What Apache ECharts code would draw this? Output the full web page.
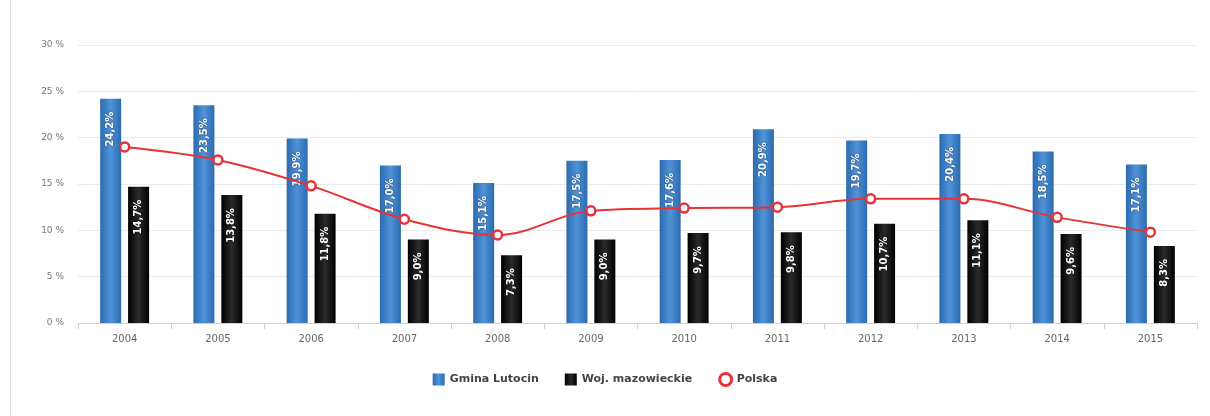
<!DOCTYPE html>
<html>
<head>
<meta charset="utf-8">
<script src="https://cdn.jsdelivr.net/npm/echarts@6/dist/echarts.min.js"></script>
<style>
html,body{margin:0;padding:0;background:#fff;}
#c{width:1210px;height:416px;}
</style>
</head>
<body>
<div id="c"></div>
<script>
var years = ['2004','2005','2006','2007','2008','2009','2010','2011','2012','2013','2014','2015'];
var gminaLutocin = [24.2, 23.5, 19.9, 17.0, 15.1, 17.5, 17.6, 20.9, 19.7, 20.4, 18.5, 17.1];
var wojMazowieckie = [14.7, 13.8, 11.8, 9.0, 7.3, 9.0, 9.7, 9.8, 10.7, 11.1, 9.6, 8.3];
var polska = [19.0, 17.6, 14.8, 11.2, 9.5, 12.1, 12.4, 12.5, 13.4, 13.4, 11.4, 9.8];

function fmt(v){ return v.toFixed(1).replace('.', ',') + '%'; }

var chart = echarts.init(document.getElementById('c'));
var barLabel = {
  show: true,
  position: 'insideTop',
  rotate: 90,
  align: 'right',
  verticalAlign: 'middle',
  distance: 13,
  color: '#fff',
  fontWeight: 'bold',
  fontSize: 10,
  fontFamily: 'DejaVu Sans',
  textShadowColor: 'rgba(0,0,0,0.6)',
  textShadowBlur: 2,
  formatter: function(p){ return fmt(p.value); }
};
chart.setOption({
  animation: false,
  backgroundColor: '#fff',
  graphic: [{
    type: 'line',
    shape: {x1: 10.5, y1: 0, x2: 10.5, y2: 416},
    style: {stroke: '#e4e4e4', lineWidth: 1}
  }],
  grid: {left: 78, right: 13, top: 45, bottom: 93, containLabel: false},
  legend: {
    bottom: 24,
    left: 'center',
    itemGap: 26,
    itemWidth: 12,
    itemHeight: 12,
    textStyle: {color: '#444', fontWeight: 'bold', fontSize: 11, fontFamily: 'DejaVu Sans'},
    data: [
      {name: 'Gmina Lutocin', icon: 'rect'},
      {name: 'Woj. mazowieckie', icon: 'rect'},
      {name: 'Polska', icon: 'circle', itemStyle: {color: '#fff', borderColor: '#e8323a', borderWidth: 3}}
    ]
  },
  xAxis: {
    type: 'category',
    data: years,
    boundaryGap: true,
    axisLine: {lineStyle: {color: '#c6d3e0'}},
    axisTick: {show: true, length: 6, lineStyle: {color: '#c6d3e0'}},
    axisLabel: {color: '#666', fontSize: 10, margin: 11, fontFamily: 'DejaVu Sans'}
  },
  yAxis: {
    type: 'value',
    min: 0,
    max: 30,
    interval: 5,
    axisLine: {show: false},
    axisTick: {show: false},
    splitLine: {lineStyle: {color: '#ebebeb'}},
    axisLabel: {color: '#777', fontSize: 9, margin: 14, fontFamily: 'DejaVu Sans', formatter: '{value} %'}
  },
  series: [
    {
      name: 'Gmina Lutocin',
      type: 'bar',
      data: gminaLutocin,
      barWidth: 21,
      barGap: '33%',
      itemStyle: {
        color: new echarts.graphic.LinearGradient(0, 0, 1, 0, [
          {offset: 0, color: '#2c6aae'},
          {offset: 0.5, color: '#4f93d8'},
          {offset: 1, color: '#2c6aae'}
        ])
      },
      label: barLabel
    },
    {
      name: 'Woj. mazowieckie',
      type: 'bar',
      data: wojMazowieckie,
      barWidth: 21,
      itemStyle: {
        color: new echarts.graphic.LinearGradient(0, 0, 1, 0, [
          {offset: 0, color: '#000'},
          {offset: 0.5, color: '#2b2b2b'},
          {offset: 1, color: '#000'}
        ])
      },
      label: barLabel
    },
    {
      name: 'Polska',
      type: 'line',
      data: polska,
      smooth: 0.35,
      symbol: 'circle',
      symbolSize: 9,
      z: 5,
      lineStyle: {color: '#e8323a', width: 2},
      itemStyle: {color: '#fff', borderColor: '#e8323a', borderWidth: 2.5}
    }
  ]
});
</script>
</body>
</html>
